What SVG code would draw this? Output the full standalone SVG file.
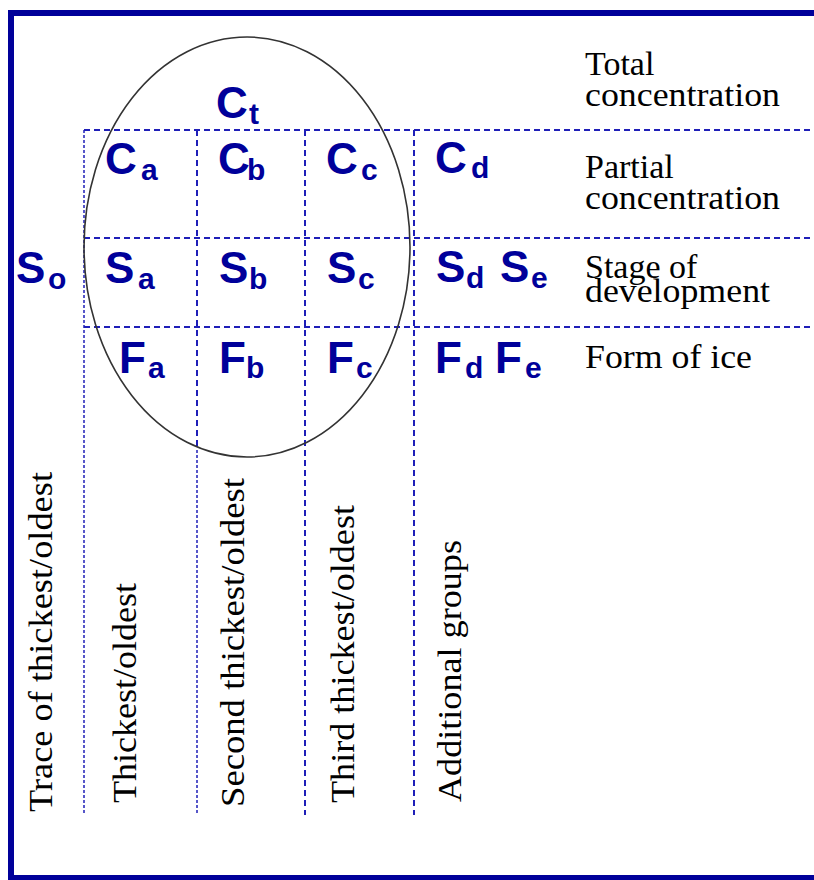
<svg xmlns="http://www.w3.org/2000/svg" width="814" height="880" viewBox="0 0 814 880">
<style>
.frame{fill:none;stroke:#00009a;stroke-width:6}
.grid line{stroke:#1f1fb8;stroke-width:2;stroke-dasharray:6 4;fill:none}
.grid line.fine{stroke-width:1.5;stroke-dasharray:3 2}
.big{font-family:"Liberation Sans",Arial,sans-serif;font-weight:bold;font-size:44px;fill:#00009a}
.sub{font-family:"Liberation Sans",Arial,sans-serif;font-weight:bold;font-size:30px;fill:#00009a}
.lbl{font-family:"Liberation Serif","Times New Roman",serif;font-size:34px;fill:#000}
</style>
<rect width="814" height="880" fill="#fff"/>
<path class="frame" d="M11,880 V13 H814 M11,878 H814"/>
<g id="connectors" class="grid">
<line x1="84" y1="130" x2="812" y2="130"/>
<line x1="84" y1="238" x2="812" y2="238"/>
<line x1="84" y1="327" x2="812" y2="327"/>
<line class="fine" x1="84" y1="130" x2="84" y2="815"/>
<line x1="197" y1="130" x2="197" y2="450"/>
<line class="fine" x1="197" y1="450" x2="197" y2="815"/>
<line x1="305" y1="130" x2="305" y2="815"/>
<line x1="414" y1="130" x2="414" y2="815"/>
</g>
<g id="ellipse"><ellipse cx="247" cy="247" rx="163" ry="210" fill="none" stroke="#333" stroke-width="1.6"/></g>
<g id="Ct"><text class="big" x="216" y="118">C</text><text class="sub" x="249" y="124">t</text></g>
<g id="Ca"><text class="big" x="105" y="174">C</text><text class="sub" x="141" y="180">a</text></g>
<g id="Cb"><text class="big" x="218" y="174">C</text><text class="sub" x="247" y="180">b</text></g>
<g id="Cc"><text class="big" x="326" y="174">C</text><text class="sub" x="361" y="180">c</text></g>
<g id="Cd"><text class="big" x="435" y="173">C</text><text class="sub" x="471" y="178">d</text></g>
<g id="So"><text class="big" x="16" y="283">S</text><text class="sub" x="48" y="289">o</text></g>
<g id="Sa"><text class="big" x="105" y="283">S</text><text class="sub" x="138" y="289">a</text></g>
<g id="Sb"><text class="big" x="219" y="283">S</text><text class="sub" x="249" y="289">b</text></g>
<g id="Sc"><text class="big" x="327" y="283">S</text><text class="sub" x="358" y="289">c</text></g>
<g id="Sd"><text class="big" x="436" y="282">S</text><text class="sub" x="466" y="288">d</text></g>
<g id="Se"><text class="big" x="500" y="282">S</text><text class="sub" x="531" y="288">e</text></g>
<g id="Fa"><text class="big" x="119" y="373">F</text><text class="sub" x="148" y="378">a</text></g>
<g id="Fb"><text class="big" x="219" y="373">F</text><text class="sub" x="246" y="378">b</text></g>
<g id="Fc"><text class="big" x="327" y="373">F</text><text class="sub" x="356" y="378">c</text></g>
<g id="Fd"><text class="big" x="435" y="373">F</text><text class="sub" x="465" y="378">d</text></g>
<g id="Fe"><text class="big" x="495" y="373">F</text><text class="sub" x="525" y="378">e</text></g>
<g id="label-total"><text class="lbl" x="585" y="75">Total</text><text class="lbl" x="585" y="106" textLength="195" lengthAdjust="spacingAndGlyphs">concentration</text></g>
<g id="label-partial"><text class="lbl" x="585" y="178">Partial</text><text class="lbl" x="585" y="209" textLength="195" lengthAdjust="spacingAndGlyphs">concentration</text></g>
<g id="label-stage"><text class="lbl" x="585" y="278">Stage of</text><text class="lbl" x="585" y="302" textLength="185" lengthAdjust="spacingAndGlyphs">development</text></g>
<g id="label-form"><text class="lbl" x="585" y="368" textLength="167" lengthAdjust="spacingAndGlyphs">Form of ice</text></g>
<g id="col-trace"><text class="lbl" transform="translate(52,812) rotate(-90)" textLength="340" lengthAdjust="spacingAndGlyphs">Trace of thickest/oldest</text></g>
<g id="col-a"><text class="lbl" transform="translate(136,803) rotate(-90)" textLength="220" lengthAdjust="spacingAndGlyphs">Thickest/oldest</text></g>
<g id="col-b"><text class="lbl" transform="translate(244,807) rotate(-90)" textLength="329" lengthAdjust="spacingAndGlyphs">Second thickest/oldest</text></g>
<g id="col-c"><text class="lbl" transform="translate(354,803) rotate(-90)" textLength="298" lengthAdjust="spacingAndGlyphs">Third thickest/oldest</text></g>
<g id="col-d"><text class="lbl" transform="translate(461,802) rotate(-90)" textLength="262" lengthAdjust="spacingAndGlyphs">Additional groups</text></g>
</svg>
